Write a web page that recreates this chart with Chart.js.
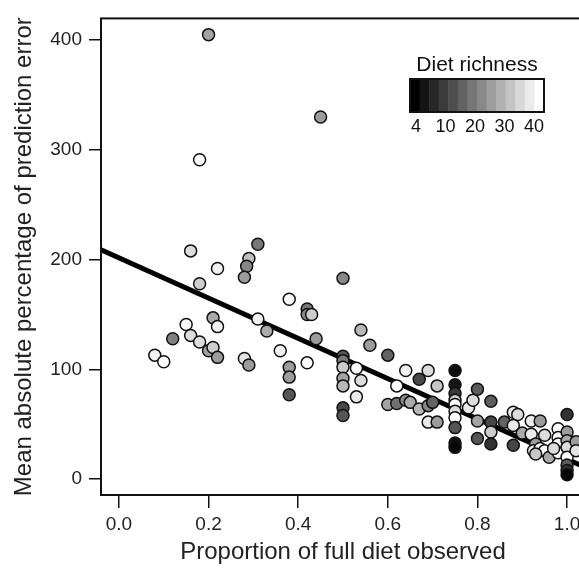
<!DOCTYPE html>
<html>
<head>
<meta charset="utf-8">
<script src="https://cdn.jsdelivr.net/npm/chart.js@4.4.1/dist/chart.umd.min.js"></script>
<style>
  html, body { margin: 0; padding: 0; background: #fff; overflow: hidden; }
  #wrap { width: 600px; height: 568px; }
</style>
</head>
<body>
<div id="wrap"><canvas id="myChart" width="600" height="568"></canvas></div>
<script>
// values
const xTicks = [0, 0.2, 0.4, 0.6, 0.8, 1.0];
const yTicks = [0, 100, 200, 300, 400];
const legendLabels = [4, 10, 20, 30, 40];

const proportion = [
  0.20, 0.45, 0.18, 0.16, 0.31, 0.29, 0.285, 0.28, 0.22, 0.18,
  0.21, 0.22, 0.15, 0.16, 0.12, 0.18, 0.20, 0.21, 0.22, 0.08,
  0.10, 0.28, 0.29, 0.50, 0.38, 0.42, 0.42, 0.43, 0.31, 0.33,
  0.44, 0.54, 0.56, 0.36, 0.38, 0.38, 0.38, 0.42,
  0.50, 0.50, 0.50, 0.50, 0.50, 0.50, 0.50, 0.53, 0.54, 0.53,
  0.60, 0.64, 0.69, 0.67, 0.62, 0.71, 0.60, 0.62, 0.64, 0.65,
  0.67, 0.69, 0.70, 0.69, 0.71,
  0.75, 0.75, 0.75, 0.75, 0.75, 0.75, 0.75, 0.75, 0.75, 0.75,
  0.78, 0.79, 0.80, 0.80, 0.80, 0.83, 0.83, 0.83, 0.83, 0.86,
  0.88, 0.89, 0.88, 0.90, 0.88, 0.92, 0.94, 0.92, 0.95, 0.93,
  0.925, 0.94, 0.95, 0.93, 0.96, 0.98, 0.98, 0.98, 0.98, 0.97,
  1.0, 1.0, 1.0, 1.0, 1.0, 1.0, 1.0, 1.0, 1.02, 1.02
];
const errorPct = [
  405, 330, 291, 208, 214, 201, 194, 184, 192, 178,
  147, 139, 141, 131, 128, 125, 117, 120, 111, 113,
  107, 110, 104, 183, 164, 155, 150, 150, 146, 135,
  128, 136, 122, 117, 102, 93, 77, 106,
  112, 108, 102, 92, 85, 65, 58, 101, 90, 75,
  113, 99, 99, 91, 85, 85, 68, 69, 72, 70,
  64, 67, 70, 52, 52,
  99, 86, 78, 72, 68, 62, 56, 47, 33, 29,
  65, 72, 82, 53, 37, 71, 52, 43, 32, 52,
  61, 59, 49, 42, 31, 53, 53, 41, 40, 32,
  26, 28, 26, 23, 20, 46, 38, 32, 24, 28,
  59, 43, 35, 29, 20, 13, 8, 4, 34, 26
];
const richness = [
  27, 26, 40, 35, 21, 31, 23, 26, 38, 33,
  28, 38, 39, 35, 22, 35, 27, 33, 26, 38,
  40, 36, 26, 23, 39, 21, 23, 33, 38, 28,
  26, 30, 26, 38, 26, 26, 16, 40,
  16, 21, 33, 27, 30, 14, 16, 39, 35, 37,
  18, 38, 35, 14, 40, 32, 27, 20, 24, 28,
  30, 23, 18, 37, 26,
  6, 7, 12, 33, 40, 35, 40, 16, 6, 5,
  37, 35, 17, 27, 16, 17, 14, 33, 11, 18,
  37, 35, 37, 28, 14, 37, 26, 37, 35, 26,
  37, 40, 40, 32, 28, 40, 40, 40, 40, 35,
  11, 26, 28, 35, 40, 17, 11, 5, 26, 36
];

// fitted line, end points
const fitX = [-0.04, 1.04];
const fitY = [209, 11];

const richMin = 4, richMax = 40;
function grey(r) {
  const g = Math.round(255 * (r - richMin) / (richMax - richMin));
  return 'rgb(' + g + ',' + g + ',' + g + ')';
}

const FONT = "'Liberation Sans', Arial, Helvetica, sans-serif";

const boxAndLegend = {
  id: 'boxAndLegend',
  afterDraw(chart) {
    const ctx = chart.ctx;
    const a = chart.chartArea;
    ctx.save();
    ctx.strokeStyle = '#111';
    ctx.lineWidth = 2;
    ctx.strokeRect(a.left, a.top, a.right - a.left, a.bottom - a.top);

    // colour bar
    const bx = 410, by = 79, bw = 134, bh = 33, nBands = 14;
    for (let i = 0; i < nBands; i++) {
      const r = richMin + (richMax - richMin) * i / (nBands - 1);
      ctx.fillStyle = grey(r);
      ctx.fillRect(bx + i * bw / nBands, by, bw / nBands + 0.5, bh);
    }
    ctx.lineWidth = 2;
    ctx.strokeRect(bx, by, bw, bh);

    ctx.fillStyle = '#111';
    ctx.textAlign = 'center';
    ctx.textBaseline = 'alphabetic';
    ctx.font = '21px ' + FONT;
    ctx.fillText('Diet richness', bx + bw / 2, 71);
    ctx.font = '18px ' + FONT;
    legendLabels.forEach((l, i) => {
      ctx.fillText(String(l), bx + 6 + i * 29.5, 132);
    });
    ctx.restore();
  }
};

const points = proportion.map((x, i) => ({ x: x, y: errorPct[i] }));

new Chart(document.getElementById('myChart'), {
  type: 'scatter',
  data: {
    datasets: [
      {
        type: 'line',
        data: fitX.map((x, i) => ({ x: x, y: fitY[i] })),
        borderColor: '#000',
        borderWidth: 5,
        pointRadius: 0,
        fill: false,
        order: 2
      },
      {
        data: points,
        pointRadius: 6,
        pointBorderWidth: 1.5,
        pointBorderColor: '#111',
        pointBackgroundColor: richness.map(grey),
        order: 1
      }
    ]
  },
  options: {
    responsive: false,
    animation: false,
    devicePixelRatio: 1,
    layout: { padding: { top: 12, right: 15, left: 0, bottom: 0 } },
    plugins: { legend: { display: false }, tooltip: { enabled: false } },
    scales: {
      x: {
        type: 'linear',
        min: -0.04,
        max: 1.04,
        afterBuildTicks: s => { s.ticks = xTicks.map(v => ({ value: v })); },
        afterFit: s => { s.height = 73; },
        border: { display: false },
        grid: { drawOnChartArea: false, tickLength: 13, color: '#111', lineWidth: 1.5 },
        ticks: {
          padding: 5,
          color: '#222',
          font: { family: FONT, size: 19 },
          callback: v => v.toFixed(1)
        },
        title: {
          display: true,
          text: 'Proportion of full diet observed',
          color: '#222',
          font: { family: FONT, size: 24 },
          padding: { top: 0, bottom: 1 }
        }
      },
      y: {
        type: 'linear',
        min: -14.4,
        max: 419.8,
        afterBuildTicks: s => { s.ticks = yTicks.map(v => ({ value: v })); },
        afterFit: s => { s.width = 101; },
        border: { display: false },
        grid: { drawOnChartArea: false, tickLength: 12, color: '#111', lineWidth: 1.5 },
        ticks: {
          padding: 7,
          color: '#222',
          font: { family: FONT, size: 19 },
          callback: v => String(v)
        },
        title: {
          display: true,
          text: 'Mean absolute percentage of prediction error',
          color: '#222',
          font: { family: FONT, size: 24 },
          padding: { top: 10, bottom: 0 }
        }
      }
    }
  },
  plugins: [boxAndLegend]
});
</script>
</body>
</html>
